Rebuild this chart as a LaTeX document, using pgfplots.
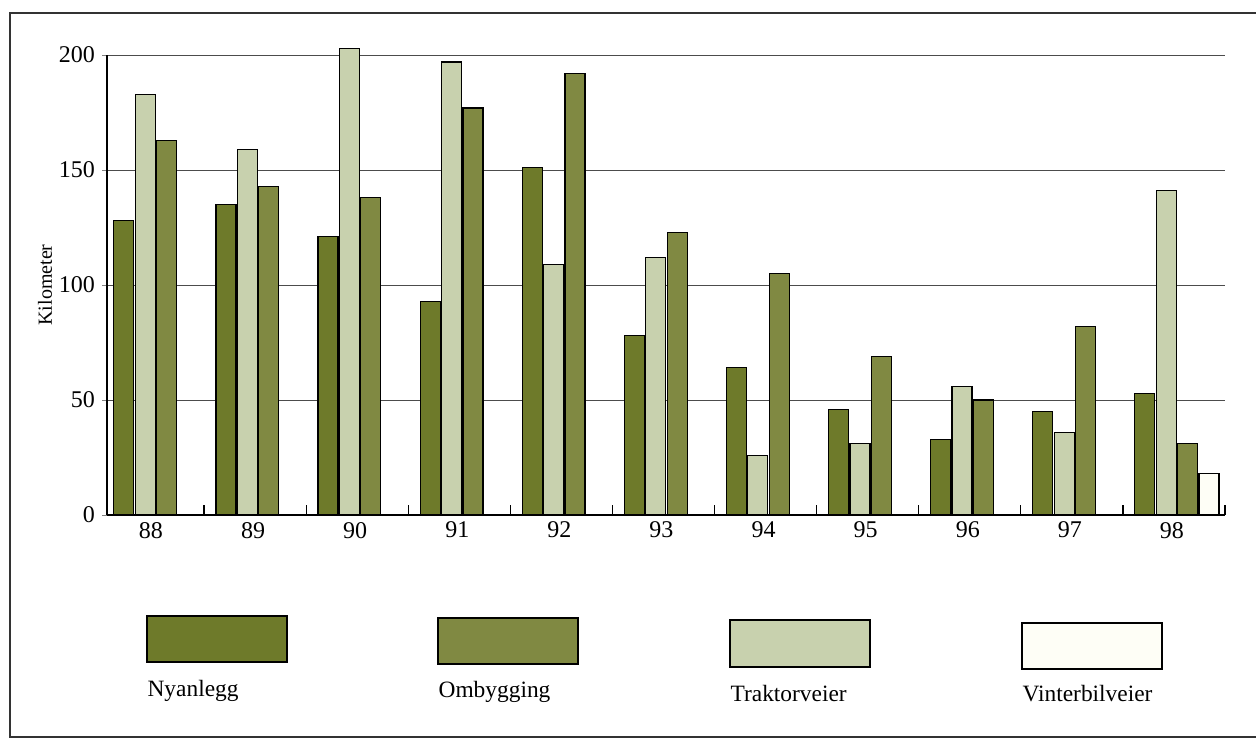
\documentclass[border=0pt]{standalone}
\usepackage{fontspec}
\setmainfont{Liberation Serif}
\usepackage{pgfplots}
\usepackage{pgfplotstable}
\pgfplotsset{compat=1.18}

\definecolor{nyan}{RGB}{110,122,42}
\definecolor{omb}{RGB}{128,137,66}
\definecolor{trakt}{RGB}{200,209,174}
\definecolor{vinter}{RGB}{254,254,246}

% km per year
\pgfplotstableread{
year nyan trakt omb
88 128 183 163
89 135 159 143
90 121 203 138
91  93 197 177
92 151 109 192
93  78 112 123
94  64  26 105
95  46  31  69
96  33  56  50
97  45  36  82
98  53 141  31
}\roads

\begin{document}
\begin{tikzpicture}
\useasboundingbox (0,0) rectangle (628pt,-370pt);
% scanned page frame
\draw[black!80, line width=0.6pt] (628pt,-6.5pt) -- (5pt,-6.5pt) -- (5pt,-368.5pt) -- (628pt,-368.5pt);

\begin{axis}[
    at={(53.5pt,-257.5pt)}, anchor=south west,
    width=559pt, height=230pt, scale only axis,
    clip=false,
    ybar=0.7pt, bar width=10pt,
    xmin=87.55, xmax=98.5,
    ymin=0, ymax=200,
    axis x line=bottom, axis y line=left,
    axis line style={-, black, line width=0.6pt},
    xtick={88,...,98},
    minor xtick={88.5,89.5,...,98.5},
    ytick={0,50,100,150,200},
    major x tick style={draw=none},
    minor x tick style={black, line width=0.6pt},
    xtick align=inside,
    ytick align=outside,
    major tick length=2.5pt,
    minor tick length=5pt,
    ymajorgrids,
    major grid style={black!70, line width=0.5pt},
    tick label style={font=\fontsize{12}{14}\selectfont},
    xticklabel style={xshift=-1pt},
    /pgf/number format/assume math mode=true,
    ylabel={Kilometer},
    ylabel style={font=\fontsize{10}{12}\selectfont},
    every axis y label/.style={at={(axis description cs:-0.0555,0.50)}, rotate=90, anchor=center},
    every axis plot/.append style={draw=black, line width=0.6pt, xshift=1.5pt},
  ]
  \addplot[fill=nyan] table[x=year, y=nyan] {\roads};
  \addplot[fill=trakt] table[x=year, y=trakt] {\roads};
  \addplot[fill=omb] table[x=year, y=omb] {\roads};
  \addplot[fill=vinter] coordinates {(98,18)};
\end{axis}

% legend boxes with names underneath
\begin{scope}[line width=0.6pt, font=\fontsize{11.7}{14}\selectfont]
  \draw[fill=nyan]   (73.5pt,-308pt)  rectangle (143.5pt,-331pt);
  \draw[fill=omb]    (219pt,-309pt)   rectangle (289pt,-332pt);
  \draw[fill=trakt]  (365pt,-310pt)   rectangle (435pt,-333.5pt);
  \draw[fill=vinter] (511pt,-311.5pt) rectangle (581pt,-334.5pt);
  \node[anchor=west, inner sep=0pt] at (73.5pt,-345.5pt) {Nyanlegg};
  \node[anchor=west, inner sep=0pt] at (219pt,-346pt) {Ombygging};
  \node[anchor=west, inner sep=0pt] at (365pt,-346.5pt) {Traktorveier};
  \node[anchor=west, inner sep=0pt] at (511pt,-347pt) {Vinterbilveier};
\end{scope}
\end{tikzpicture}
\end{document}
